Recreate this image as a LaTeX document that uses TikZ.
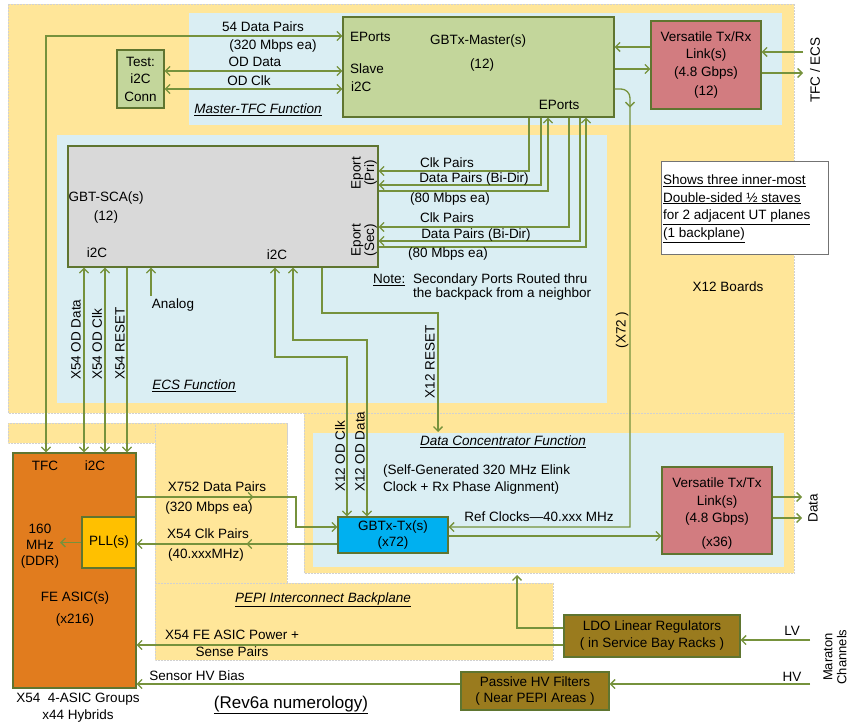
\documentclass[tikz,border=0pt]{standalone}
\usepackage{fontspec}
\setmainfont{Liberation Sans}
\usetikzlibrary{arrows.meta,decorations.markings}
\definecolor{yel}{HTML}{FFE699}
\definecolor{lblue}{HTML}{DAEEF3}
\definecolor{linec}{HTML}{76923C}
\definecolor{bord}{HTML}{5F7530}
\definecolor{gbox}{HTML}{C3D69B}
\definecolor{pinkb}{HTML}{D27C80}
\definecolor{grayb}{HTML}{D9D9D9}
\definecolor{cyanb}{HTML}{00B0F0}
\definecolor{orangeb}{HTML}{E17C1E}
\definecolor{pllc}{HTML}{FFC000}
\definecolor{brownb}{HTML}{9A7B1E}
\begin{document}
\begin{tikzpicture}[x=1pt,y=-1pt,
  >={Straight Barb[length=4.5pt,width=9pt]},
  font=\fontsize{13.5}{16}\selectfont,
  wire/.style={draw=linec, line width=1.3pt},
  blk/.style={draw=bord, line width=1.3pt, align=center, inner sep=0pt},
  lbl/.style={inner sep=0pt, align=center},
  fnlbl/.style={inner sep=0pt, font=\fontsize{13.5}{16}\selectfont\itshape},
  area/.style={fill=yel, draw=black!18, densely dotted, line width=0.5pt},
  midtip/.style={postaction={decorate}, decoration={markings, mark=at position #1 with {\arrow[linec]{>}}}},
]
\useasboundingbox (0,0) rectangle (848,722);
\fill[white] (0,0) rectangle (848,722);
% background areas
\path[area] (8,4) rectangle (794,413);
\path[area] (304,413) rectangle (794,573);
\path[area] (8,423) rectangle (287,443);
\path[area] (155,423) rectangle (287,583);
\path[area] (155,583) rectangle (553,660);
\fill[lblue] (189,13) rectangle (782,125);
\fill[lblue] (57,135) rectangle (607,403);
\fill[lblue] (313,433) rectangle (784,567);

% free end points
\coordinate (tfcin) at (803,52);
\coordinate (tfcout) at (803,73);
\coordinate (analog) at (151,296);
\coordinate (rst12) at (438,432);
\coordinate (pllout) at (60,542.5);
\coordinate (dout1) at (802,497);
\coordinate (dout2) at (802,518);
\coordinate (dcin) at (517,575);
\coordinate (lvin) at (810,640);
\coordinate (hvin) at (810,684);

% blocks
\node[blk, fill=gbox, minimum width=47, minimum height=58, font=\fontsize{13.5}{17.5}\selectfont] (test) at (140.5,79) {Test:\\i2C\\Conn};
\node[blk, fill=gbox, minimum width=271, minimum height=100] (master) at (478.5,67) {};
\node[blk, fill=pinkb, minimum width=110, minimum height=88, font=\fontsize{13.5}{17.5}\selectfont] (vtrx) at (706,65) {Versatile Tx/Rx\\Link(s)\\(4.8 Gbps)\\[2pt](12)};
\node[blk, fill=grayb, minimum width=310, minimum height=121] (sca) at (223,206.5) {};
\node[blk, fill=white, draw=black!55, line width=1pt, minimum width=167, minimum height=92] (note) at (744.5,208) {};
\node[blk, fill=cyanb, minimum width=110, minimum height=36, font=\fontsize{13.5}{16}\selectfont] (gbttx) at (393,535) {GBTx-Tx(s)\\(x72)};
\node[blk, fill=pinkb, minimum width=110, minimum height=87] (vttx) at (717,510.5) {};
\node[blk, fill=orangeb, minimum width=123, minimum height=235] (fe) at (74.5,570.5) {};
\node[blk, fill=pllc, minimum width=54, minimum height=51] (pll) at (109,542.5) {PLL(s)};
\node[blk, fill=brownb, minimum width=176, minimum height=42, font=\fontsize{13.5}{17}\selectfont] (ldo) at (652,636) {LDO Linear Regulators\\( in Service Bay Racks )};
\node[blk, fill=brownb, minimum width=148, minimum height=38, font=\fontsize{13.5}{16}\selectfont] (phv) at (535,691) {Passive HV Filters\\( Near PEPI Areas )};

% connectors
\draw[wire,<->] (master.west |- 0,36) -- (46,36) -- (fe.north -| 46,0);
\draw[wire,<->] (test.east |- 0,71) -- (master.west |- 0,71);
\draw[wire,<->] (test.east |- 0,89) -- (master.west |- 0,89);
\draw[wire,->] (vtrx.west |- 0,47) -- (master.east |- 0,47);
\draw[wire,->] (master.east |- 0,69) -- (vtrx.west |- 0,69);
\draw[wire,->] (tfcin) -- (vtrx.east |- tfcin);
\draw[wire,->] (vtrx.east |- tfcout) -- (tfcout);
\draw[wire,->,midtip=30pt] (master.east |- 0,89) [rounded corners=9pt] -- (630,89) -- (630,200) [sharp corners] -- (630,527) -- (gbttx.east |- 0,527);

\draw[wire,->] (master.south -| 529,0) -- (529,171) -- (sca.east |- 0,171);
\draw[wire,->] (master.south -| 541,0) -- (541,185) -- (sca.east |- 0,185);
\draw[wire,->] (sca.east |- 0,191) -- (548,191) -- (master.south -| 548,0);
\draw[wire,->] (master.south -| 569,0) -- (569,227) -- (sca.east |- 0,227);
\draw[wire,->] (master.south -| 580,0) -- (580,241) -- (sca.east |- 0,241);
\draw[wire,->] (sca.east |- 0,247) -- (586,247) -- (master.south -| 586,0);

\draw[wire,<->] (sca.south -| 84,0) -- (fe.north -| 84,0);
\draw[wire,<->] (sca.south -| 105,0) -- (fe.north -| 105,0);
\draw[wire,->] (sca.south -| 127,0) -- (fe.north -| 127,0);
\draw[wire,->] (analog) -- (sca.south -| analog);
\draw[wire,<->] (sca.south -| 275,0) -- (275,357) -- (347,357) -- (gbttx.north -| 347,0);
\draw[wire,<->] (sca.south -| 293,0) -- (293,340) -- (367,340) -- (gbttx.north -| 367,0);
\draw[wire,->] (sca.south -| 322,0) -- (322,313) -- (438,313) -- (rst12);

\draw[wire,->,midtip=117pt] (fe.east |- 0,497) -- (296,497) -- (296,527) -- (gbttx.west |- 0,527);
\draw[wire,->,midtip=91pt] (gbttx.west |- 0,544) -- (pll.east |- 0,544);
\draw[wire,->] (pll.west) -- (pllout);
\draw[wire,->] (gbttx.east |- 0,536) -- (vttx.west |- 0,536);
\draw[wire,->] (vttx.east |- dout1) -- (dout1);
\draw[wire,->] (vttx.east |- dout2) -- (dout2);
\draw[wire,->] (ldo.west |- 0,628) -- (517,628) -- (dcin);
\draw[wire,->] (ldo.west |- 0,645) -- (fe.east |- 0,645);
\draw[wire,->] (lvin) -- (ldo.east |- lvin);
\draw[wire,->] (hvin) -- (phv.east |- hvin);
\draw[wire,->] (phv.west |- hvin) -- (fe.east |- hvin);

% labels: top
\node[lbl] (t54) at (263,27) {54 Data Pairs};
\node[lbl] (t320) at (273,46) {(320 Mbps ea)};
\node[lbl] (todd) at (255,62) {OD Data};
\node[lbl] (todc) at (249,81) {OD Clk};
\node[fnlbl] (tmtfc) at (258,110) {\underline{Master-TFC Function}};
\node[lbl, anchor=west] (mep1) at (350,37) {EPorts};
\node[lbl] (mname) at (478,41) {GBTx-Master(s)};
\node[lbl] (m12) at (482,65) {(12)};
\node[lbl, anchor=west] (mslave) at (350,69) {Slave};
\node[lbl, anchor=west] (mi2c) at (351,87) {i2C};
\node[lbl] (mep2) at (559,105) {EPorts};
\node[lbl, rotate=90] (tfcecs) at (815,70) {TFC / ECS};

% labels: ECS
\node[lbl] (scaname) at (106,198) {GBT-SCA(s)};
\node[lbl] (sca12) at (106,217) {(12)};
\node[lbl] (scai2c1) at (97,253) {i2C};
\node[lbl] (scai2c2) at (277,255) {i2C};
\node[lbl, rotate=90, font=\fontsize{13.5}{13.5}\selectfont] (epri) at (364,173) {Eport\\(Pri)};
\node[lbl, rotate=90, font=\fontsize{13.5}{13.5}\selectfont] (esec) at (364,240) {Eport\\(Sec)};
\node[lbl] (pclk) at (447,163) {Clk Pairs};
\node[lbl] (pdat) at (474,179) {Data Pairs (Bi-Dir)};
\node[lbl] (p80) at (450,199) {(80 Mbps ea)};
\node[lbl] (sclk) at (447,218) {Clk Pairs};
\node[lbl] (sdat) at (476,235) {Data Pairs (Bi-Dir)};
\node[lbl] (s80) at (448,254) {(80 Mbps ea)};
\node[lbl, anchor=west] (notekey) at (373,280) {\underline{Note:}};
\node[lbl, anchor=west, align=left, font=\fontsize{13.5}{14.5}\selectfont] (notetext) at (413,287) {Secondary Ports Routed thru\\the backpack from a neighbor};
\node[lbl, anchor=west, align=left, font=\fontsize{13.5}{17.7}\selectfont] (notetxt) at (663,208.5) {\underline{Shows three inner-most}\\\underline{Double-sided ½ staves}\\\underline{for 2 adjacent UT planes}\\\underline{(1 backplane)}};
\node[lbl] (x12b) at (728,287) {X12 Boards};
\node[lbl, rotate=90] (x72) at (622,330) {(X72 )};
\node[lbl] (tanalog) at (173,305) {Analog};
\node[lbl, rotate=90, anchor=west] (x54d) at (76,380) {X54 OD Data};
\node[lbl, rotate=90, anchor=west] (x54c) at (97,380) {X54 OD Clk};
\node[lbl, rotate=90, anchor=west] (x54r) at (120,380) {X54 RESET};
\node[fnlbl] (tecs) at (194,386) {\underline{ECS Function}};
\node[lbl, rotate=90] (x12r) at (430,362) {X12 RESET};
\node[lbl, rotate=90, anchor=west] (x12c) at (340,492) {X12 OD Clk};
\node[lbl, rotate=90, anchor=west] (x12d) at (360,492) {X12 OD Data};

% labels: data concentrator
\node[fnlbl] (tdc) at (503,442) {\underline{Data Concentrator Function}};
\node[lbl, anchor=west, align=left, font=\fontsize{13.5}{17}\selectfont] (selfgen) at (383,479.5) {(Self-Generated 320 MHz Elink\\Clock + Rx Phase Alignment)};
\node[lbl] (refclk) at (539,517) {Ref Clocks—40.xxx MHz};
\node[lbl, font=\fontsize{13.5}{17.5}\selectfont] (vt1) at (717,502) {Versatile Tx/Tx\\Link(s)\\(4.8 Gbps)};
\node[lbl] (vt2) at (717,543) {(x36)};
\node[lbl, rotate=90] (tdata) at (813,508) {Data};

% labels: FE / PEPI
\node[lbl] (ftfc) at (45,466) {TFC};
\node[lbl] (fi2c) at (95,466) {i2C};
\node[lbl, font=\fontsize{13.5}{16}\selectfont] (f160) at (40,546) {160\\MHz\\(DDR)};
\node[lbl] (fasic) at (75,598) {FE ASIC(s)};
\node[lbl] (f216) at (75,620) {(x216)};
\node[lbl] (x752) at (217,487) {X752 Data Pairs};
\node[lbl] (x752b) at (209,508) {(320 Mbps ea)};
\node[lbl] (x54clk) at (208,534) {X54 Clk Pairs};
\node[lbl] (x54clkb) at (206,555) {(40.xxxMHz)};
\node[fnlbl] (tpepi) at (323,600) {\underline{PEPI Interconnect Backplane}};
\node[lbl] (tpow) at (232,635) {X54 FE ASIC Power +};
\node[lbl] (tsense) at (232,652) {Sense Pairs};
\node[lbl] (thv) at (197,676) {Sensor HV Bias};
\node[lbl] (tgrp) at (78,699) {X54\ \ 4-ASIC Groups};
\node[lbl] (thyb) at (78,716) {x44 Hybrids};
\node[lbl, font=\fontsize{17}{20}\selectfont] (trev) at (291,705) {\underline{(Rev6a numerology)}};
\node[lbl] (tlv) at (792,631) {LV};
\node[lbl] (thvin) at (792,677) {HV};
\node[lbl, rotate=90, font=\fontsize{13}{14}\selectfont] (tmar) at (835,657) {Maraton\\Channels};
\end{tikzpicture}
\end{document}
